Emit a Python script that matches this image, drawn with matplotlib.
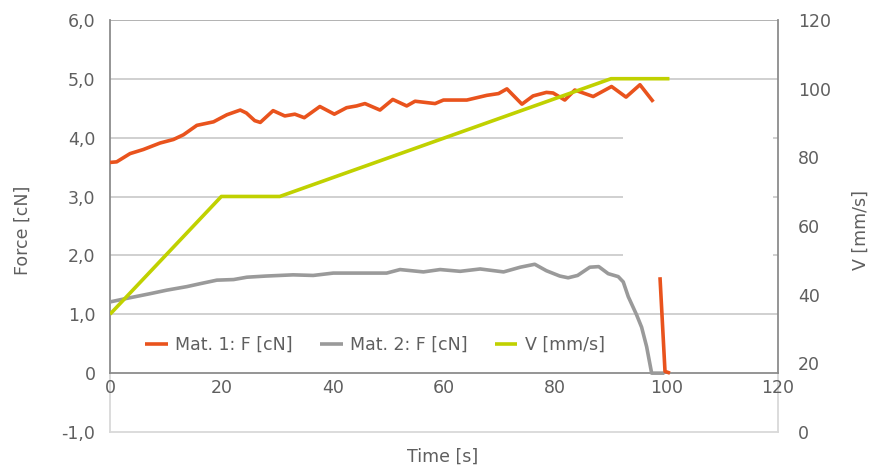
import numpy as np
import matplotlib
matplotlib.use("Agg")
import matplotlib.pyplot as plt

# ---- data ----
time_m1 = [0, 1.2, 3.6, 6.0, 9.0, 11.4, 13.2, 15.6, 18.6, 21.0, 23.4, 24.5, 26.0, 27.0,
           29.3, 31.4, 33.2, 34.9, 37.7, 40.3, 42.5, 44.3, 45.8, 48.5, 50.8, 53.3, 54.8,
           58.4, 59.9, 64.1, 67.7, 69.8, 71.3, 74.0, 76.0, 78.4, 79.6, 81.7, 83.5, 86.8,
           90.1, 92.7, 95.2, 97.6, np.nan, 98.8, 99.7, 100.6]
force_m1 = [3.58, 3.59, 3.73, 3.80, 3.91, 3.97, 4.05, 4.21, 4.27, 4.39, 4.47, 4.42, 4.29, 4.26,
            4.46, 4.37, 4.40, 4.34, 4.53, 4.40, 4.51, 4.54, 4.58, 4.47, 4.65, 4.54, 4.62,
            4.58, 4.64, 4.64, 4.72, 4.75, 4.83, 4.57, 4.71, 4.77, 4.76, 4.64, 4.81, 4.70,
            4.87, 4.69, 4.90, 4.61, np.nan, 1.63, 0.03, 0.0]

time_m2 = [0, 3.0, 7.2, 10.2, 13.8, 16.2, 19.2, 22.2, 24.6, 28.1, 32.9, 36.5, 40.1, 49.7,
           52.1, 56.3, 59.3, 62.9, 66.5, 70.7, 73.7, 76.3, 78.4, 80.8, 82.3, 84.0, 86.2,
           87.8, 89.5, 91.3, 92.2, 93.1, 94.6, 95.5, 96.4, 97.3, 99.6]
force_m2 = [1.21, 1.27, 1.35, 1.41, 1.47, 1.52, 1.58, 1.59, 1.63, 1.65, 1.67, 1.66, 1.70, 1.70,
            1.76, 1.72, 1.76, 1.73, 1.77, 1.72, 1.80, 1.85, 1.74, 1.65, 1.62, 1.66, 1.80,
            1.81, 1.69, 1.64, 1.55, 1.30, 0.99, 0.78, 0.45, 0.0, 0.0]

time_v = [0, 20, 30.5, 90, 100.5]
speed_v = [34.3, 68.6, 68.6, 102.9, 102.9]

x_ticks = [0, 20, 40, 60, 80, 100, 120]
y1_ticks = [-1, 0, 1, 2, 3, 4, 5, 6]
y1_labels = ["-1,0", "0", "1,0", "2,0", "3,0", "4,0", "5,0", "6,0"]
y2_ticks = [0, 20, 40, 60, 80, 100, 120]

labels = ["Mat. 1: F [cN]", "Mat. 2: F [cN]", "V [mm/s]"]

# ---- style ----
RED = "#E9531D"
GREY = "#9A9A9A"
GREEN = "#C0D100"
TXT = "#5F5F5F"
AXC = "#8C8C8C"
LIGHT = "#D9D9D9"
GRID = "#C4C4C4"
FS = 12.5

plt.rcParams["font.family"] = ["DejaVu Sans"]

fig = plt.figure(figsize=(8.85, 4.70), dpi=100)
ax = fig.add_axes([110 / 885, 38 / 470, 668 / 885, 412 / 470])
ax2 = ax.twinx()

ax.set_xlim(0, 120)
ax.set_ylim(-1, 6)
ax2.set_ylim(0, 120)

for sp in ax.spines.values():
    sp.set_visible(False)
for sp in ax2.spines.values():
    sp.set_visible(False)

# gridlines
ax.hlines([1, 5], 0, 120, color=GRID, lw=1.1, zorder=1)
ax.hlines([2, 3, 4], 0, 92.2, color=GRID, lw=1.1, zorder=1)
ax.hlines([2, 3, 4], 119.1, 120, color=GRID, lw=1.1, zorder=1)
ax.hlines([6], 0, 120, color="#A6A6A6", lw=1.2, zorder=1)

# frame
ax.plot([0, 0], [-1, 0], color=LIGHT, lw=1.3, zorder=1, clip_on=False)
ax.plot([120, 120], [-1, 0], color=LIGHT, lw=1.3, zorder=1, clip_on=False)
ax.plot([0, 120], [-1, -1], color=LIGHT, lw=1.3, zorder=1, clip_on=False)
ax.plot([0, 0], [0, 6], color=AXC, lw=1.3, zorder=2, clip_on=False)
ax.plot([120, 120], [0, 6], color=AXC, lw=1.3, zorder=2, clip_on=False)
ax.plot([0, 120], [0, 0], color=AXC, lw=1.3, zorder=2, clip_on=False)

# data
l1, = ax.plot(time_m1, force_m1, color=RED, lw=2.6, solid_joinstyle="round",
              solid_capstyle="butt", zorder=4)
l2, = ax.plot(time_m2, force_m2, color=GREY, lw=2.6, solid_joinstyle="round",
              solid_capstyle="butt", zorder=3)
l3, = ax2.plot(time_v, speed_v, color=GREEN, lw=2.6, solid_joinstyle="round",
               solid_capstyle="butt", zorder=3)

# ticks
ax.set_xticks(x_ticks)
ax.set_xticklabels([str(t) for t in x_ticks])
ax.set_yticks(y1_ticks)
ax.set_yticklabels(y1_labels)
ax2.set_yticks(y2_ticks)
ax2.set_yticklabels([str(t) for t in y2_ticks])

ax.tick_params(axis="both", length=0, colors=TXT, labelsize=FS)
ax.tick_params(axis="x", pad=4)
ax.tick_params(axis="y", pad=10.5)
ax2.tick_params(axis="y", length=0, colors=TXT, labelsize=FS, pad=14.5)

# x tick labels placed just below the y=0 axis line
ax.spines["bottom"].set_position(("data", 0))
ax.xaxis.set_ticks_position("bottom")

ax.set_xlabel("Time [s]", color=TXT, fontsize=FS)
ax.xaxis.set_label_coords(0.4985, -0.038)
ax.set_ylabel("Force [cN]", color=TXT, fontsize=FS)
ax.yaxis.set_label_coords(-0.117, 0.49)
ax2.set_ylabel("V [mm/s]", color=TXT, fontsize=FS, rotation=90)
ax2.yaxis.set_label_coords(1.111, 0.49)

leg = ax2.legend([l1, l2, l3], labels, loc="center", bbox_to_anchor=(0.397, 0.211),
                 ncol=3, frameon=False, fontsize=FS, handlelength=1.3,
                 handletextpad=0.45, columnspacing=1.55, labelcolor=TXT)

fig.savefig("out.png", dpi=100)
